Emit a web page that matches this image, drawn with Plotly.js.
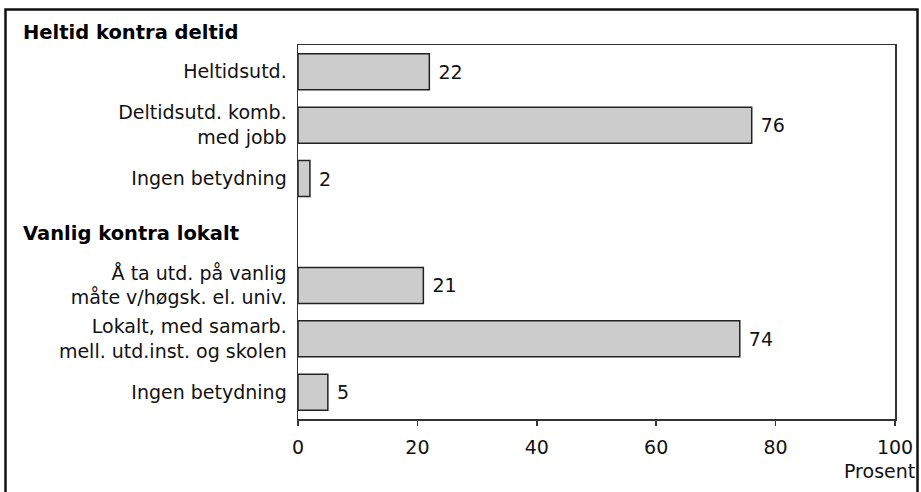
<!DOCTYPE html>
<html>
<head>
<meta charset="utf-8">
<script src="https://cdn.plot.ly/plotly-3.0.1.min.js"></script>
<style>html,body{margin:0;padding:0;background:#fff;}#chart{width:921px;height:492px;}</style>
</head>
<body>
<div id="chart"></div>
<script>
const categories = [
  "Heltidsutd.",
  "Deltidsutd. komb.<br>med jobb",
  "Ingen betydning",
  "",
  "Å ta utd. på vanlig<br>måte v/høgsk. el. univ.",
  "Lokalt, med samarb.<br>mell. utd.inst. og skolen",
  "Ingen betydning"
];
const values = [22, 76, 2, null, 21, 74, 5];
const groupTitles = ["Heltid kontra deltid", "Vanlig kontra lokalt"];
const xTicks = [0, 20, 40, 60, 80, 100];
const xTitle = "Prosent";

const W = 921, H = 492;
const M = {l: 298, r: 26, t: 45, b: 73};
const PW = W - M.l - M.r, PH = H - M.t - M.b;
const px2x = p => (p - M.l) / PW;
const px2y = p => (H - M.b - p) / PH;

const idx = categories.map((_, i) => i);
const FONT = '"DejaVu Sans", "Open Sans", sans-serif';
const FS = 19;

const trace = {
  type: 'bar',
  orientation: 'h',
  y: idx,
  x: values,
  marker: {color: '#cccccc', line: {color: '#222222', width: 1.5}},
  text: values.map(v => v === null ? '' : String(v)),
  texttemplate: '\u00a0%{x}',
  textposition: 'outside',
  textfont: {family: FONT, size: FS, color: '#111'},
  cliponaxis: false,
  hoverinfo: 'skip'
};

// header rows: first sits above the plot, second in the empty slot (index 3)
const headerPx = [32, 233];
const annotations = groupTitles.map((t, i) => ({
  text: '<b>' + t + '</b>',
  xref: 'paper', yref: 'paper',
  x: px2x(21), y: px2y(headerPx[i]),
  xanchor: 'left', yanchor: 'middle',
  showarrow: false,
  font: {family: FONT, size: 19.5, color: '#000'}
}));
annotations.push({
  text: xTitle,
  xref: 'paper', yref: 'paper',
  x: px2x(917), y: px2y(471),
  xanchor: 'right', yanchor: 'middle',
  showarrow: false,
  font: {family: FONT, size: FS, color: '#111'}
});

const layout = {
  width: W, height: H,
  margin: M,
  paper_bgcolor: '#fff', plot_bgcolor: '#fff',
  showlegend: false,
  bargap: 0.326,
  font: {family: FONT, size: FS, color: '#111'},
  xaxis: {
    range: [0, 100],
    tickvals: xTicks,
    ticktext: xTicks.map(String),
    ticks: 'outside', ticklen: 5, tickwidth: 1.5, tickcolor: '#333',
    ticklabelstandoff: 6,
    showline: true, linecolor: '#333', linewidth: 1.5, mirror: true,
    showgrid: false, zeroline: false,
    fixedrange: true,
    tickfont: {family: FONT, size: FS, color: '#111'}
  },
  yaxis: {
    range: [6.5, -0.5],
    tickvals: idx,
    ticktext: categories,
    ticks: '', ticklabelstandoff: 6,
    showline: true, linecolor: '#333', linewidth: 1.5, mirror: true,
    showgrid: false, zeroline: false,
    fixedrange: true,
    tickfont: {family: FONT, size: FS, color: '#111'}
  },
  annotations: annotations,
  shapes: [{
    type: 'rect', xref: 'paper', yref: 'paper',
    x0: px2x(5.5), x1: px2x(917.5), y0: px2y(500), y1: px2y(9.5),
    line: {color: '#111', width: 2.5}, fillcolor: 'rgba(0,0,0,0)', layer: 'above'
  }]
};

Plotly.newPlot('chart', [trace], layout, {staticPlot: true, displayModeBar: false});
</script>
</body>
</html>
